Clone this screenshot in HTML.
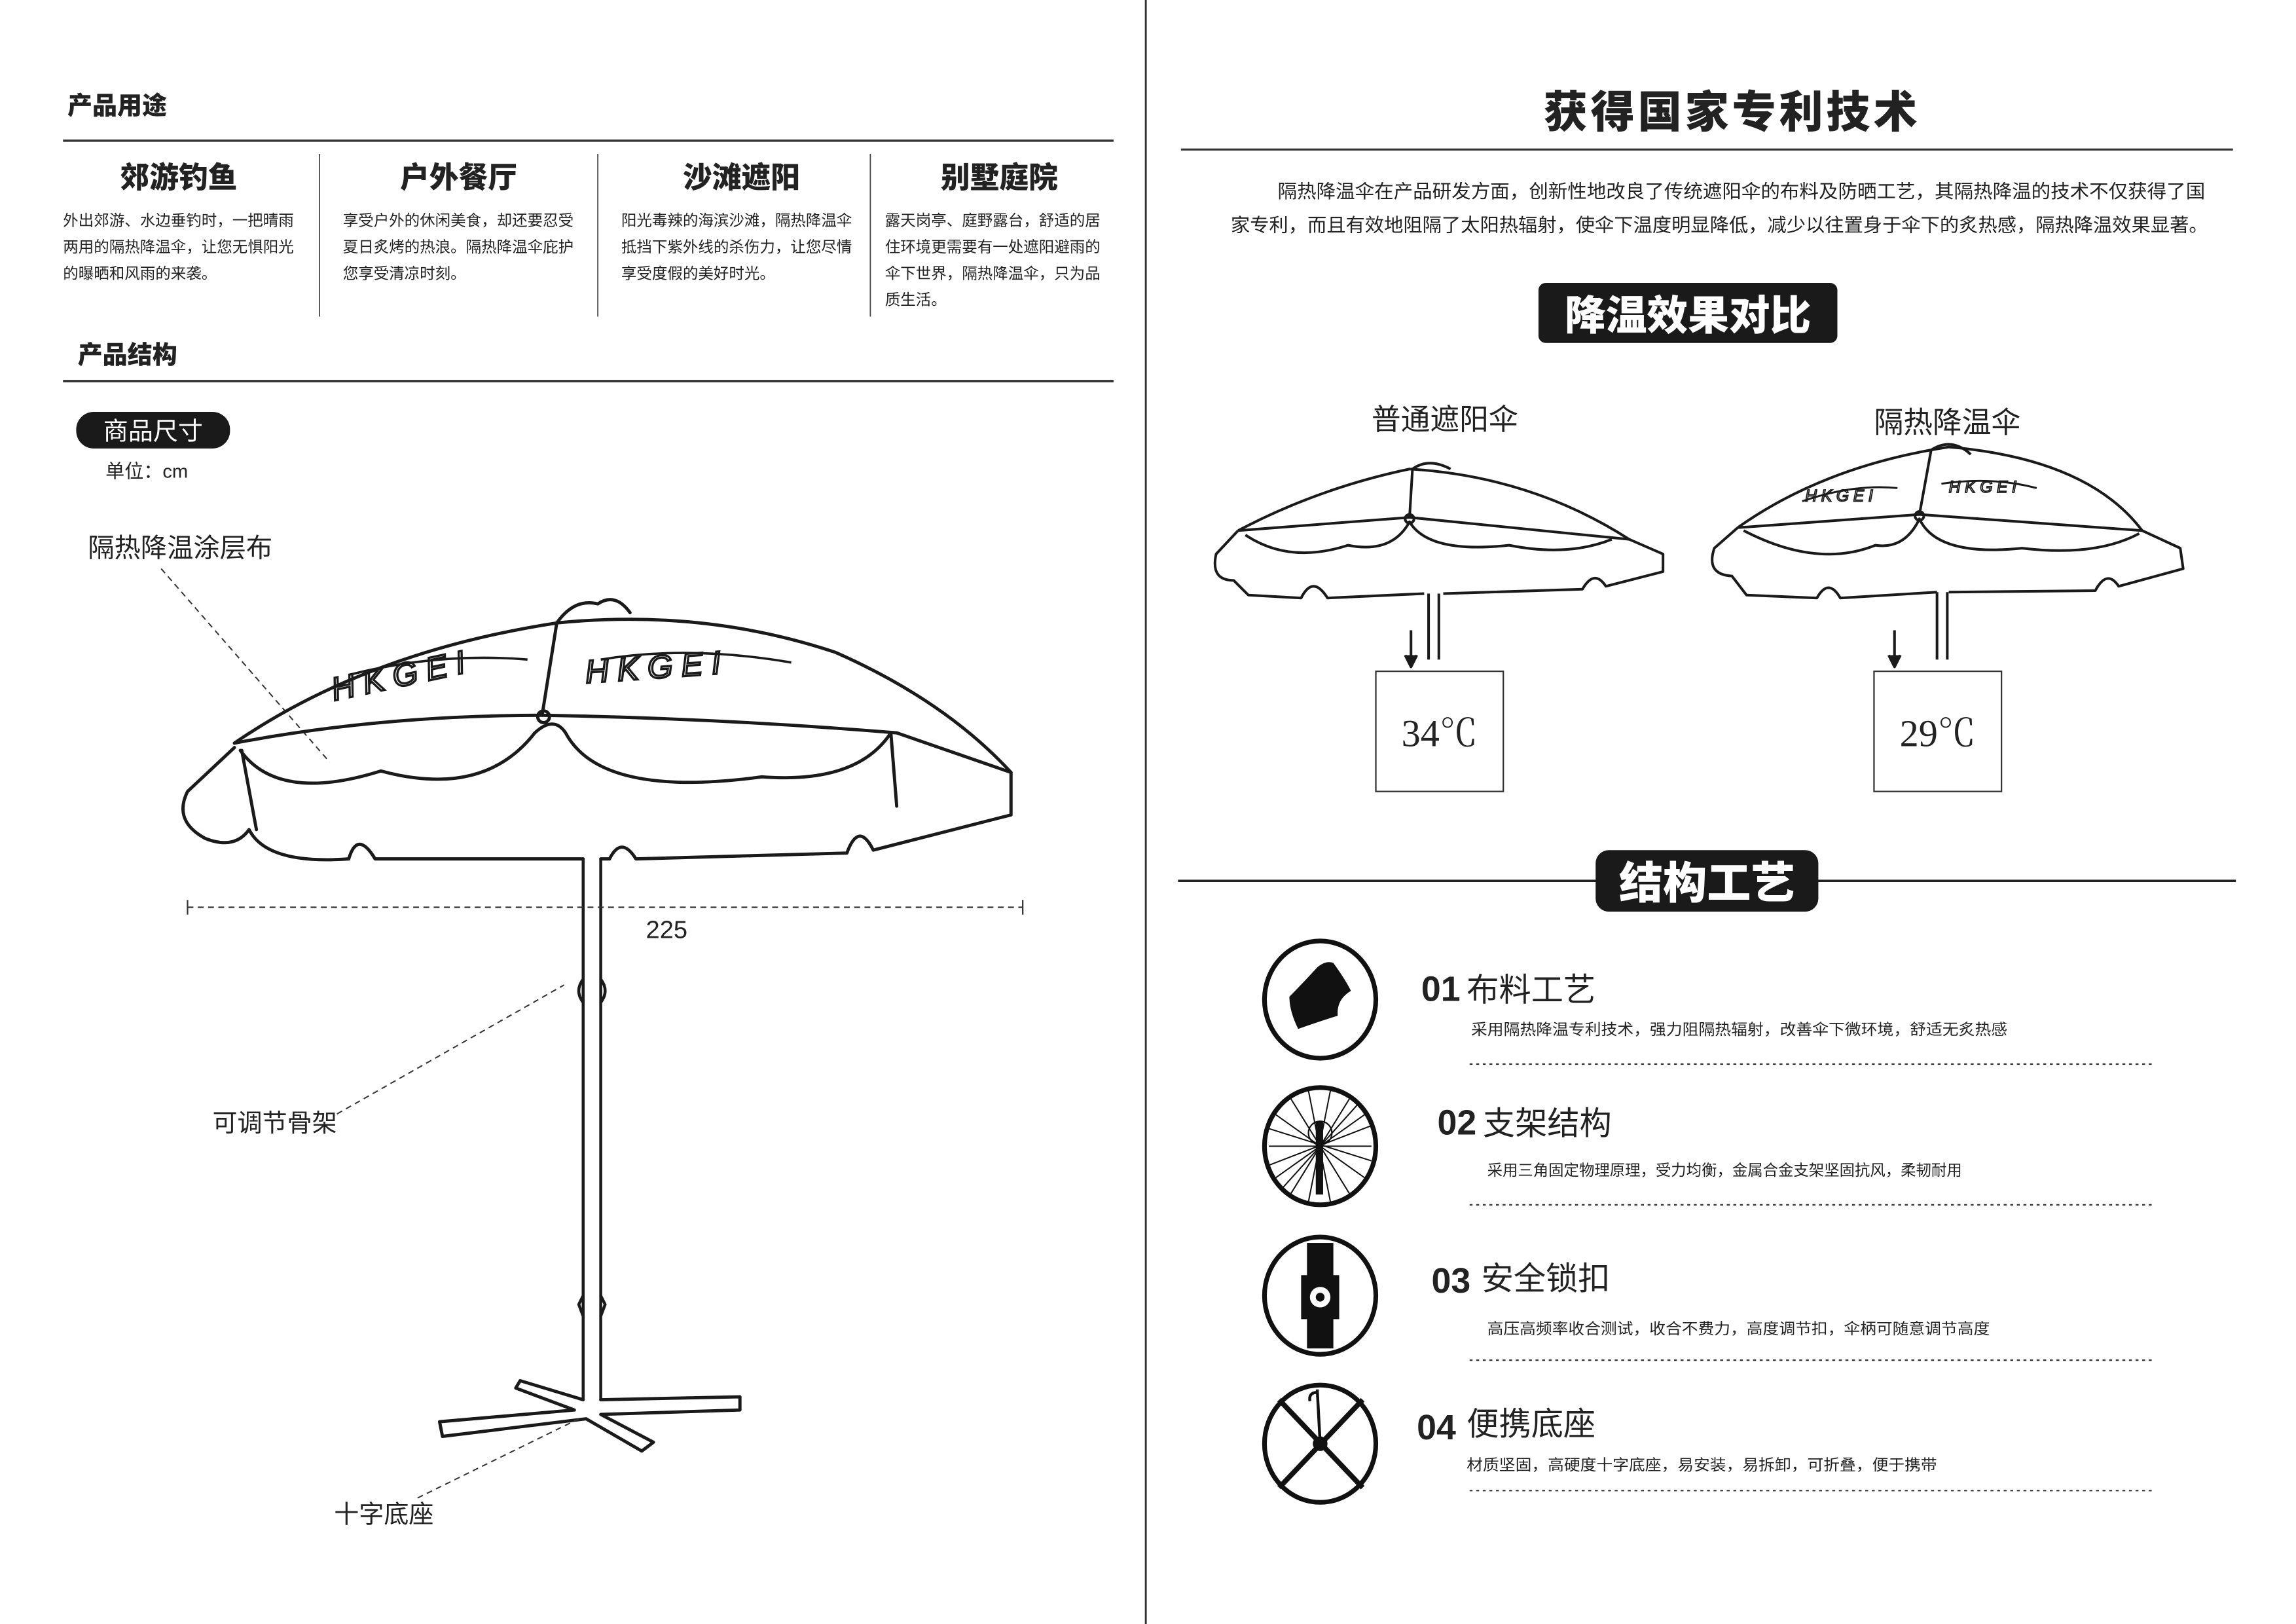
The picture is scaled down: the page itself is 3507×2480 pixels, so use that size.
<!DOCTYPE html>
<html><head><meta charset="utf-8">
<style>
html,body{margin:0;padding:0;background:#fff;}
svg{display:block;}
text{font-family:"Liberation Sans","Noto Sans CJK SC",sans-serif;fill:#222;}
.b{font-weight:900;}
.body{font-size:10.5px;}
.desc{font-size:10.3px;}
</style></head><body>
<svg width="3507" height="2480" viewBox="0 0 1567 1108" preserveAspectRatio="none" xmlns="http://www.w3.org/2000/svg">
<rect width="1567" height="1108" fill="#fff"/>
<line x1="782" y1="0" x2="782" y2="1108" stroke="#333" stroke-width="1.3"/>

<text x="46" y="78" class="b" font-size="17">产品用途</text>
<line x1="43" y1="96" x2="760" y2="96" stroke="#333" stroke-width="1.6"/>
<g stroke="#444" stroke-width="0.8">
<line x1="218" y1="105" x2="218" y2="216"/><line x1="408" y1="105" x2="408" y2="216"/><line x1="594" y1="105" x2="594" y2="216"/>
</g>
<g class="b" font-size="20" text-anchor="middle">
<text x="122" y="128" class="b">郊游钓鱼</text>
<text x="313" y="128" class="b">户外餐厅</text>
<text x="506" y="128" class="b">沙滩遮阳</text>
<text x="682" y="128" class="b">别墅庭院</text>
</g>
<g class="body">
<text x="43" y="154">外出郊游、水边垂钓时，一把晴雨</text>
<text x="43" y="172">两用的隔热降温伞，让您无惧阳光</text>
<text x="43" y="190">的曝晒和风雨的来袭。</text>
<text x="234" y="154">享受户外的休闲美食，却还要忍受</text>
<text x="234" y="172">夏日炙烤的热浪。隔热降温伞庇护</text>
<text x="234" y="190">您享受清凉时刻。</text>
<text x="424" y="154">阳光毒辣的海滨沙滩，隔热降温伞</text>
<text x="424" y="172">抵挡下紫外线的杀伤力，让您尽情</text>
<text x="424" y="190">享受度假的美好时光。</text>
<text x="604" y="154">露天岗亭、庭野露台，舒适的居</text>
<text x="604" y="172">住环境更需要有一处遮阳避雨的</text>
<text x="604" y="190">伞下世界，隔热降温伞，只为品</text>
<text x="604" y="208">质生活。</text>
</g>
<text x="53" y="248" class="b" font-size="17">产品结构</text>
<line x1="43" y1="260" x2="760" y2="260" stroke="#333" stroke-width="1.6"/>
<rect x="52" y="281" width="105" height="25" rx="12" fill="#1a1a1a"/>
<text x="104.5" y="300" font-size="17" text-anchor="middle" style="fill:#fff">商品尺寸</text>
<text x="72" y="326" font-size="13">单位：cm</text>
<text x="60" y="380" font-size="18">隔热降温涂层布</text>
<line x1="110" y1="388" x2="225" y2="520" stroke="#333" stroke-width="0.9" stroke-dasharray="4,3"/>

<g fill="none" stroke="#1a1a1a" stroke-width="2.2" stroke-linejoin="round" stroke-linecap="round">
<path d="M160,507 Q250,445 380,425 Q480,415 570,445 Q645,478 690,527"/>
<path d="M160,507 Q260,488 370,488 Q490,490 612,500 L690,527"/>
<path d="M370,488 L380,425"/>
<path d="M380,425 Q392,408 408,412 Q420,404 430,418"/>
<path d="M160,510 L128,540 Q118,560 140,572 Q160,580 170,566 Q182,590 238,586 Q244,566 256,586 L398,586"/>
<path d="M410,586 L416,586 Q424,570 434,586 L578,582 Q586,560 596,580 L690,556 L690,527"/>
<path d="M164,512 Q190,548 260,526 Q330,545 365,500 Q378,488 386,500 Q410,545 520,530 Q585,535 608,500"/>
<path d="M608,500 L612,550"/>
<path d="M165,512 L175,566"/>
<circle cx="371" cy="489" r="4"/>
<path d="M398,586 L398,955 M410,586 L410,955" stroke-width="2"/>
<path d="M398,668 Q392,676 398,684 M410,668 Q416,676 410,684" stroke-width="2"/>
<path d="M398,884 L395,890 L398,898 M410,884 L413,890 L410,898" stroke-width="2"/>
<path d="M398,955 L355,942 L352,947 L392,962 L300,970 L302,980 L400,968 L438,990 L446,984 L410,965 L505,962 L505,953 L410,955"/>
</g>
<g font-family="Liberation Sans" font-style="italic" font-size="22">
<text x="228" y="478" transform="rotate(-12 228 478)" style="fill:none;stroke:#1a1a1a;stroke-width:1.5" letter-spacing="6">HKGEI</text>
<text x="400" y="466" transform="rotate(-4 400 466)" style="fill:none;stroke:#1a1a1a;stroke-width:1.5" letter-spacing="6">HKGEI</text>
</g>
<path d="M240,460 Q300,445 360,450 M410,450 Q470,440 540,452" stroke="#1a1a1a" stroke-width="1.6" fill="none"/>
<line x1="128" y1="619" x2="698" y2="619" stroke="#333" stroke-width="1" stroke-dasharray="4,3"/>
<line x1="128" y1="614" x2="128" y2="624" stroke="#333"/><line x1="698" y1="614" x2="698" y2="624" stroke="#333"/>
<text x="455" y="640" font-size="17" text-anchor="middle">225</text>
<text x="145" y="772" font-size="17">可调节骨架</text>
<line x1="230" y1="760" x2="385" y2="672" stroke="#333" stroke-width="0.9" stroke-dasharray="4,3"/>
<text x="228" y="1039" font-size="17">十字底座</text>
<line x1="285" y1="1022" x2="395" y2="968" stroke="#333" stroke-width="0.9" stroke-dasharray="4,3"/>

<text x="1181" y="87" class="b" font-size="30" text-anchor="middle" textLength="255">获得国家专利技术</text>
<line x1="806" y1="102" x2="1524" y2="102" stroke="#333" stroke-width="1.4"/>
<text x="872" y="135" font-size="12.8" textLength="633" lengthAdjust="spacingAndGlyphs">隔热降温伞在产品研发方面，创新性地改良了传统遮阳伞的布料及防晒工艺，其隔热降温的技术不仅获得了国</text>
<text x="840" y="158" font-size="12.8" textLength="667" lengthAdjust="spacingAndGlyphs">家专利，而且有效地阻隔了太阳热辐射，使伞下温度明显降低，减少以往置身于伞下的炙热感，隔热降温效果显著。</text>
<rect x="1050" y="193" width="204" height="41" rx="5" fill="#1a1a1a"/>
<text x="1152" y="225" class="b" font-size="28" text-anchor="middle" style="fill:#fff">降温效果对比</text>
<text x="986" y="293" font-size="20" text-anchor="middle">普通遮阳伞</text>
<text x="1329" y="295" font-size="20" text-anchor="middle">隔热降温伞</text>

<g fill="none" stroke="#1a1a1a" stroke-width="1.8" stroke-linejoin="round">
<path d="M845,362 Q900,333 962,320 Q1045,325 1112,368"/>
<path d="M845,362 L962,353 L1112,368"/>
<path d="M962,353 L964,320 Q975,312 990,320"/>
<path d="M845,362 L830,378 Q826,396 842,396 L852,406 L888,408 Q896,392 906,408 L972,405 M985,405 L1080,402 Q1088,388 1096,400 L1135,390 L1135,378 L1112,368"/>
<path d="M850,365 Q880,385 920,372 Q950,378 962,356 Q975,378 1030,372 Q1070,380 1100,368"/>
<circle cx="962" cy="354" r="3"/>
<path d="M975,405 L975,450 M982,405 L982,450"/>
<path d="M963,430 L963,453"/><path d="M959,447 L963,455 L967,447" fill="#1a1a1a"/>
<path d="M1186,360 Q1245,318 1330,305 Q1425,313 1462,362"/>
<path d="M1186,360 L1310,351 L1462,362"/>
<path d="M1310,351 L1318,307 Q1332,298 1345,310"/>
<path d="M1186,360 L1170,374 Q1164,392 1182,393 L1192,406 L1240,408 Q1248,394 1256,408 L1322,404 M1330,404 L1430,403 Q1438,388 1446,400 L1490,388 L1488,374 L1462,362"/>
<path d="M1190,362 Q1240,388 1280,372 Q1300,375 1310,354 Q1322,380 1380,374 Q1430,380 1460,364"/>
<circle cx="1310" cy="352" r="3"/>
<path d="M1322,404 L1322,450 M1329,404 L1329,450"/>
<path d="M1293,430 L1293,453"/><path d="M1289,447 L1293,455 L1297,447" fill="#1a1a1a"/>
<path d="M1230,342 Q1265,330 1295,333 M1325,330 Q1360,325 1390,333" stroke-width="1.3"/>
</g>
<text x="1232" y="342" font-size="11" font-style="italic" letter-spacing="3" style="fill:none;stroke:#1a1a1a;stroke-width:0.8">HKGEI</text>
<text x="1330" y="336" font-size="11" font-style="italic" letter-spacing="3" style="fill:none;stroke:#1a1a1a;stroke-width:0.8">HKGEI</text>
<rect x="939" y="458" width="87" height="82" fill="none" stroke="#333" stroke-width="1"/>
<text x="982.5" y="509" font-size="26" text-anchor="middle" style="font-family:'Liberation Serif','Noto Serif CJK SC',serif">34℃</text>
<rect x="1279" y="458" width="87" height="82" fill="none" stroke="#333" stroke-width="1"/>
<text x="1322.5" y="509" font-size="26" text-anchor="middle" style="font-family:'Liberation Serif','Noto Serif CJK SC',serif">29℃</text>

<line x1="804" y1="601" x2="1526" y2="601" stroke="#222" stroke-width="1.6"/>
<rect x="1089" y="580" width="152" height="42" rx="9" fill="#1a1a1a"/>
<text x="1165" y="613" class="b" font-size="30" text-anchor="middle" style="fill:#fff">结构工艺</text>

<g fill="none" stroke="#111" stroke-width="3.2">
<ellipse cx="901" cy="682" rx="38" ry="40"/>
<ellipse cx="901" cy="782" rx="38" ry="40"/>
<ellipse cx="901" cy="884" rx="38" ry="40"/>
<ellipse cx="901" cy="985" rx="38" ry="40"/>
</g>
<path d="M899,660 Q905,655 910,657 Q918,668 922,676 Q912,682 913,693 Q900,697 886,702 Q880,690 880,680 Q888,672 899,660Z" fill="#111"/>
<g stroke="#111" stroke-width="0.9">
<line x1="866" y1="770" x2="936" y2="792"/><line x1="866" y1="795" x2="936" y2="768"/>
<line x1="880" y1="748" x2="922" y2="816"/><line x1="922" y1="748" x2="880" y2="816"/>
<line x1="893" y1="744" x2="908" y2="820"/><line x1="908" y1="744" x2="893" y2="820"/>
<line x1="866" y1="782" x2="936" y2="782"/><line x1="870" y1="760" x2="932" y2="804"/>
<line x1="932" y1="760" x2="870" y2="804"/><line x1="874" y1="812" x2="928" y2="752"/>
</g>
<circle cx="901" cy="773" r="8" fill="none" stroke="#111" stroke-width="1"/>
<rect x="898" y="765" width="5" height="50" fill="#111"/>
<rect x="892" y="848" width="18" height="24" fill="#111"/>
<rect x="888" y="870" width="26" height="30" fill="#111"/>
<rect x="892" y="898" width="18" height="22" fill="#111"/>
<circle cx="901" cy="885" r="7" fill="#fff"/><circle cx="901" cy="885" r="3" fill="#111"/>
<g stroke="#111" stroke-width="3.5">
<line x1="873" y1="955" x2="930" y2="1015"/><line x1="930" y1="955" x2="873" y2="1015"/>
</g>
<line x1="899" y1="948" x2="901" y2="985" stroke="#111" stroke-width="2"/>
<path d="M899,950 Q893,950 894,956" fill="none" stroke="#111" stroke-width="2"/>
<circle cx="901" cy="985" r="5" fill="#111"/>

<g font-size="22">
<text x="970" y="683" class="b" font-size="24">01</text><text x="1001" y="683">布料工艺</text>
<text x="981" y="774" class="b" font-size="24">02</text><text x="1012" y="774">支架结构</text>
<text x="977" y="882" class="b" font-size="24">03</text><text x="1011" y="880">安全锁扣</text>
<text x="967" y="982" class="b" font-size="24">04</text><text x="1001" y="979">便携底座</text>
</g>
<g class="desc">
<text x="1004" y="706" textLength="366" lengthAdjust="spacingAndGlyphs">采用隔热降温专利技术，强力阻隔热辐射，改善伞下微环境，舒适无炙热感</text>
<text x="1015" y="802" textLength="324" lengthAdjust="spacingAndGlyphs">采用三角固定物理原理，受力均衡，金属合金支架坚固抗风，柔韧耐用</text>
<text x="1015" y="910" textLength="343" lengthAdjust="spacingAndGlyphs">高压高频率收合测试，收合不费力，高度调节扣，伞柄可随意调节高度</text>
<text x="1001" y="1003" textLength="321" lengthAdjust="spacingAndGlyphs">材质坚固，高硬度十字底座，易安装，易拆卸，可折叠，便于携带</text>
</g>
<g stroke="#333" stroke-width="1" stroke-dasharray="2,2.5">
<line x1="1003" y1="726" x2="1470" y2="726"/>
<line x1="1003" y1="822" x2="1470" y2="822"/>
<line x1="1003" y1="928" x2="1470" y2="928"/>
<line x1="1003" y1="1017" x2="1470" y2="1017"/>
</g>
</svg>
</body></html>
